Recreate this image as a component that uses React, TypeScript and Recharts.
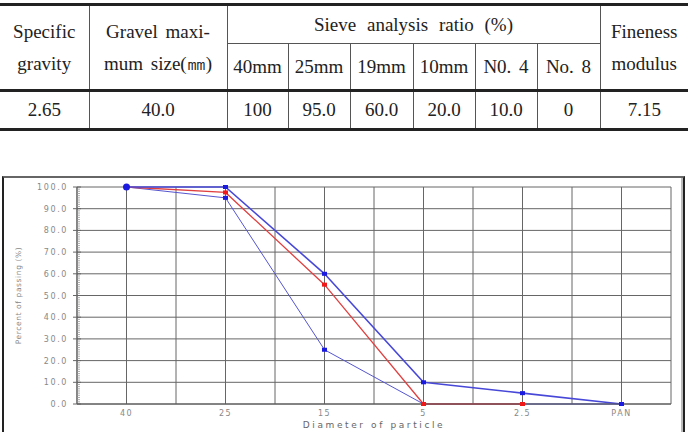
import React from 'react';
import { LineChart, Line, XAxis, YAxis, CartesianGrid, ReferenceLine, Label } from 'recharts';

// ---- table data ----
const sieveHeads = ['40mm', '25mm', '19mm', '10mm', 'N0. 4', 'No. 8'];
const sieveRatios = ['100', '95.0', '60.0', '20.0', '10.0', '0'];
const specificGravity = '2.65';
const maxSize = '40.0';
const finenessModulus = '7.15';

// ---- chart data ----
const sizes = ['40', '25', '15', '5', '2.5', 'PAN'];
const upperLimit = [100, 100, 60, 10, 5, 0];
const measured: (number | null)[] = [100, 97.5, 55, 0, 0, null];
const lowerLimit = [100, 95, 25, 0, 0, 0];
const yMajorTicks = [0, 10, 20, 30, 40, 50, 60, 70, 80, 90, 100];
const yMinorTicks = Array.from({ length: 101 }, (_, i) => i);
const xSlots = [0, 1, 2, 3, 4, 5, 6, 7, 8, 9, 10, 11, 12];

const data = sizes.map((s, i) => ({
  x: 2 * i + 1,
  size: s,
  upper: upperLimit[i],
  measured: measured[i],
  lower: lowerLimit[i],
}));

const serif = '"Liberation Serif", "Times New Roman", serif';
const sans = '"DejaVu Sans", Verdana, sans-serif';

const cell: React.CSSProperties = {
  border: '1px solid #555',
  padding: 0,
  textAlign: 'center',
  verticalAlign: 'middle',
  whiteSpace: 'nowrap',
};

const YTick = (props: any) => {
  const { x, y, payload } = props;
  const v = payload.value as number;
  if (v % 10 !== 0) {
    return <line x1={x} x2={x + 3} y1={y} y2={y} stroke="#999" strokeWidth={0.8} />;
  }
  return (
    <g>
      <line x1={x - 4} x2={x + 4} y1={y} y2={y} stroke="#666" strokeWidth={1} />
      <text x={x - 9} y={y} dy={3} textAnchor="end" fontSize={8} fill="#888" letterSpacing={1.6} fontFamily={sans}>
        {v.toFixed(1)}
      </text>
    </g>
  );
};

const makeDot = (color: string, big?: boolean) => (props: any) => {
  const { cx, cy, key, index, value } = props;
  if (cy == null || value == null) return <g key={key} />;
  if (big && index === 0) {
    return <circle key={key} cx={cx} cy={cy} r={3.5} fill={color} />;
  }
  return <rect key={key} x={cx - 2.5} y={cy - 2} width={5} height={4} fill={color} />;
};

export default function App() {
  return (
    <div style={{ position: 'absolute', left: 0, top: 0, width: 688, height: 432, overflow: 'hidden', background: '#fff' }}>
      <table
        style={{
          position: 'absolute',
          left: 0,
          top: 3,
          width: 688,
          borderCollapse: 'collapse',
          tableLayout: 'fixed',
          fontFamily: serif,
          fontSize: 19,
          color: '#222',
          wordSpacing: 3,
          borderTop: '3px solid #222',
          borderBottom: '3px solid #222',
          borderLeft: 'hidden',
          borderRight: 'hidden',
        }}
      >
        <colgroup>
          <col style={{ width: 89 }} />
          <col style={{ width: 138 }} />
          <col style={{ width: 61 }} />
          <col style={{ width: 62 }} />
          <col style={{ width: 63 }} />
          <col style={{ width: 62 }} />
          <col style={{ width: 62 }} />
          <col style={{ width: 63 }} />
          <col style={{ width: 88 }} />
        </colgroup>
        <tbody>
          <tr style={{ height: 39 }}>
            <td rowSpan={2} style={{ ...cell, lineHeight: '32px', borderBottom: '3px solid #222' }}>
              Specific<br />gravity
            </td>
            <td rowSpan={2} style={{ ...cell, lineHeight: '32px', borderBottom: '3px solid #222' }}>
              Gravel maxi-<br />mum size(㎜)
            </td>
            <td colSpan={6} style={{ ...cell, wordSpacing: 6 }}>
              Sieve analysis ratio (%)
            </td>
            <td rowSpan={2} style={{ ...cell, lineHeight: '32px', borderBottom: '3px solid #222' }}>
              Fineness<br />modulus
            </td>
          </tr>
          <tr style={{ height: 47 }}>
            {sieveHeads.map((h) => (
              <td key={h} style={{ ...cell, borderBottom: '3px solid #222' }}>{h}</td>
            ))}
          </tr>
          <tr style={{ height: 39 }}>
            <td style={cell}>{specificGravity}</td>
            <td style={cell}>{maxSize}</td>
            {sieveRatios.map((v, i) => (
              <td key={i} style={cell}>{v}</td>
            ))}
            <td style={cell}>{finenessModulus}</td>
          </tr>
        </tbody>
      </table>

      <div
        style={{
          position: 'absolute',
          left: 2,
          top: 176,
          width: 683,
          height: 280,
          boxSizing: 'border-box',
          borderTop: '2px solid #666',
          borderLeft: '2px solid #222',
          borderRight: '2px solid #222',
          boxShadow: 'inset -2px 0 0 #bbb',
        }}
      />

      <div style={{ position: 'absolute', left: 0, top: 177 }}>
        <LineChart width={688} height={260} data={data} margin={{ top: 10, right: 17, bottom: 3, left: 0 }}>
          <CartesianGrid horizontal={false} vertical={true} stroke="#666" strokeWidth={1} />
          {yMajorTicks.map((v) => (
            <ReferenceLine key={v} y={v} stroke="#666" strokeWidth={1} ifOverflow="extendDomain" />
          ))}
          <XAxis
            type="number"
            dataKey="x"
            domain={[0, 12]}
            ticks={xSlots}
            interval={0}
            allowDataOverflow
            tickLine={false}
            tickSize={0}
            tickMargin={6}
            axisLine={{ stroke: '#555' }}
            height={30}
            tick={{ fill: '#888', fontSize: 8, fontFamily: sans, letterSpacing: 1.5 }}
            tickFormatter={(v: number) => (v % 2 === 1 ? sizes[(v - 1) / 2] : '')}
          >
            <Label
              value="Diameter of particle"
              position="insideBottom"
              offset={6}
              style={{ fill: '#666', fontSize: 9, fontFamily: sans, letterSpacing: 2.6 }}
            />
          </XAxis>
          <YAxis
            type="number"
            domain={[0, 100]}
            ticks={yMinorTicks}
            interval={0}
            tickLine={false}
            tickSize={0}
            tickMargin={0}
            width={77}
            axisLine={{ stroke: '#555' }}
            tick={<YTick />}
          >
            <Label
              value="Percent of passing (%)"
              angle={-90}
              position="insideLeft"
              offset={18}
              style={{ fill: '#888', fontSize: 7.5, fontFamily: sans, letterSpacing: 0.6, textAnchor: 'middle' }}
            />
          </YAxis>
          <Line
            dataKey="lower"
            stroke="#5555d0"
            strokeWidth={1}
            dot={makeDot('#1a1ae0')}
            isAnimationActive={false}
          />
          <Line
            dataKey="measured"
            stroke="#e04040"
            strokeWidth={1.3}
            dot={makeDot('#f01818')}
            connectNulls={false}
            isAnimationActive={false}
          />
          <Line
            dataKey="upper"
            stroke="#4848d8"
            strokeWidth={1.6}
            dot={makeDot('#1a1ae0', true)}
            isAnimationActive={false}
          />
        </LineChart>
      </div>
    </div>
  );
}
